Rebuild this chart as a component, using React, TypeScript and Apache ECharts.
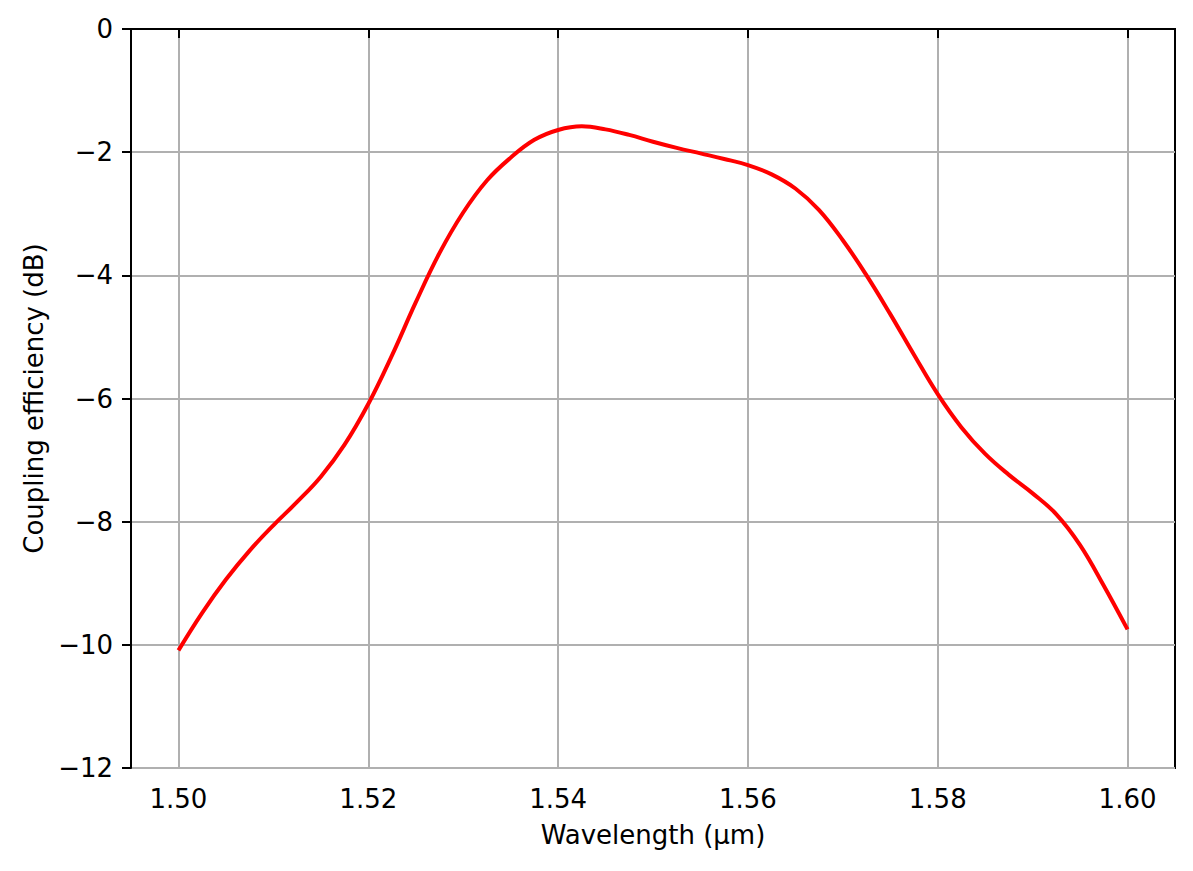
import React, { useRef, useEffect } from 'react';
import * as echarts from 'echarts';

// wavelength (µm) and coupling efficiency (dB)
const wavelengths = [
  1.5, 1.5025, 1.505, 1.5075, 1.51, 1.5125, 1.515, 1.5175, 1.52, 1.5225,
  1.525, 1.5275, 1.53, 1.5325, 1.535, 1.5375, 1.54, 1.5425, 1.545, 1.5475,
  1.55, 1.5525, 1.555, 1.5575, 1.56, 1.5625, 1.565, 1.5675, 1.57, 1.5725,
  1.575, 1.5775, 1.58, 1.5825, 1.585, 1.5875, 1.59, 1.5925, 1.595, 1.5975, 1.6
];
const efficiency = [
  -10.09, -9.48, -8.94, -8.47, -8.06, -7.68, -7.27, -6.75, -6.09, -5.3,
  -4.44, -3.64, -2.98, -2.46, -2.09, -1.8, -1.64, -1.58, -1.63, -1.72,
  -1.83, -1.93, -2.02, -2.11, -2.21, -2.36, -2.59, -2.94, -3.43, -4.0,
  -4.63, -5.29, -5.93, -6.47, -6.9, -7.24, -7.54, -7.88, -8.38, -9.04, -9.75
];
const xTicks = [1.5, 1.52, 1.54, 1.56, 1.58, 1.6];

const FONT = 'DejaVu Sans';
const FS = 26;

const App: React.FC = () => {
  const chartRef = useRef<HTMLDivElement>(null);

  useEffect(() => {
    document.body.style.margin = '0';
    if (!chartRef.current) return;
    const chart = echarts.init(chartRef.current, undefined, { renderer: 'svg' });

    chart.setOption({
      animation: false,
      backgroundColor: '#fff',
      grid: {
        left: 131,
        right: 18,
        top: 29,
        bottom: 103,
        show: true,
        borderColor: '#000',
        borderWidth: 2
      },
      xAxis: {
        type: 'value',
        min: 1.495,
        max: 1.605,
        name: 'Wavelength (μm)',
        nameLocation: 'middle',
        nameGap: 54,
        nameTextStyle: { color: '#000', fontFamily: FONT, fontSize: FS },
        axisLine: { show: true, lineStyle: { color: '#000', width: 2 } },
        axisTick: {
          show: true,
          length: 9,
          lineStyle: { color: '#000', width: 2 },
          customValues: xTicks
        },
        axisLabel: {
          color: '#000',
          fontFamily: FONT,
          fontSize: FS,
          margin: 18,
          customValues: xTicks,
          formatter: (v: number) => v.toFixed(2)
        },
        splitLine: { show: true, lineStyle: { color: '#b0b0b0', width: 2 } }
      },
      yAxis: {
        type: 'value',
        min: -12,
        max: 0,
        interval: 2,
        name: 'Coupling efficiency (dB)',
        nameLocation: 'middle',
        nameGap: 84,
        nameTextStyle: { color: '#000', fontFamily: FONT, fontSize: FS },
        axisLine: { show: true, lineStyle: { color: '#000', width: 2 } },
        axisTick: { show: true, length: 9, lineStyle: { color: '#000', width: 2 } },
        axisLabel: {
          color: '#000',
          fontFamily: FONT,
          fontSize: FS,
          margin: 18,
          formatter: (v: number) => (v < 0 ? '\u2212' + Math.abs(v) : String(v))
        },
        splitLine: { show: true, lineStyle: { color: '#b0b0b0', width: 2 } }
      },
      series: [
        {
          type: 'line',
          data: wavelengths.map((w, i) => [w, efficiency[i]]),
          showSymbol: false,
          smooth: 0.4,
          lineStyle: { color: '#ff0000', width: 4 },
          itemStyle: { color: '#ff0000' }
        }
      ]
    });

    return () => chart.dispose();
  }, []);

  return <div ref={chartRef} style={{ width: 1193, height: 871 }} />;
};

export default App;
